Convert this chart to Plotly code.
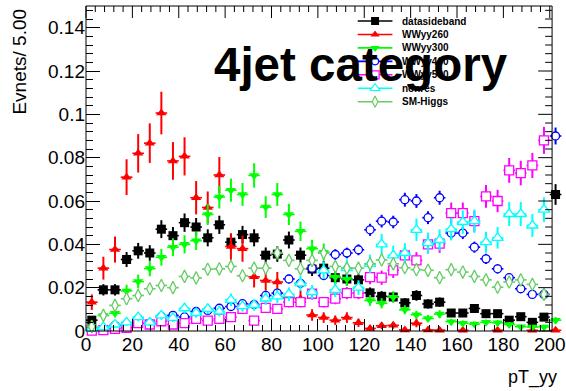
import numpy as np
import plotly.graph_objects as go

# pT_yy bin centres (5 GeV bins); the last entry is the overflow bin just past the frame
pt_centres = [2.5 + 5 * i for i in range(41)]
bin_half_width = 2.5

datasideband = [0.005, 0.019, 0.019, 0.033, 0.037, 0.036, 0.047, 0.044, 0.050, 0.048,
                0.043, 0.049, 0.041, 0.0445, 0.043, 0.035, 0.0355, 0.042, 0.035, 0.0286,
                0.029, 0.0246, 0.024, 0.0236, 0.0176, 0.016, 0.0157, 0.013, 0.0164, 0.0125,
                0.0133, 0.0083, 0.0083, 0.0104, 0.008, 0.008, 0.005, 0.0066, 0.004, 0.0064,
                0.063]
wwyy260 = [0.0133, 0.029, 0.0376, 0.071, 0.082, 0.0867, 0.1006, 0.0785, 0.0806, 0.0615,
           0.057, 0.072, 0.039, 0.038, 0.025, 0.0233, 0.0226, 0.0153, 0.0149, 0.0074,
           0.0062, 0.005, 0.0062, 0.0038, 0.0012, 0.0024, 0.0026, 0.0005, 0.0036, 0.0005,
           0.0004, None, 0.0003, None, None, 0.0003, None, None, 0.0003, None,
           0.0003]
wwyy300 = [0.0018, 0.0072, 0.0082, 0.0185, 0.0228, 0.0288, 0.034, 0.0387, 0.040, 0.0417,
           0.0538, 0.0618, 0.065, 0.063, 0.0718, 0.0572, 0.063, 0.0538, 0.046, 0.038,
           0.0364, 0.0249, 0.024, 0.0195, 0.0141, 0.0128, 0.0156, 0.0098, 0.0075, 0.0058,
           0.0078, 0.0043, 0.0036, 0.0032, 0.004, 0.0038, 0.003, 0.002, 0.0018, 0.0019,
           0.005]
wwyy400 = [0.0005, 0.001, 0.0025, 0.003, 0.0056, 0.0036, 0.0067, 0.0072, 0.0065, 0.009,
           0.0095, 0.0105, 0.0113, 0.0126, 0.0122, 0.0164, 0.0175, 0.024, 0.022, 0.029,
           0.0256, 0.0353, 0.036, 0.0375, 0.0467, 0.0507, 0.0503, 0.0606, 0.060, 0.0523,
           0.0615, 0.0452, 0.0452, 0.0387, 0.0333, 0.0287, 0.0246, 0.0195, 0.0169, 0.0169,
           0.090]
wwyy500 = [0.0002, 0.0004, 0.001, 0.0015, 0.0036, 0.003, 0.0045, 0.003, 0.0036, 0.0056,
           0.0048, 0.0056, 0.0064, 0.0102, 0.0048, 0.0107, 0.0102, 0.0133, 0.0133, 0.0172,
           0.0133, 0.0149, 0.0175, 0.0175, 0.0249, 0.0246, 0.028, 0.0349, 0.0326, 0.040,
           0.0403, 0.0544, 0.0544, 0.0507, 0.0621, 0.060, 0.0741, 0.0729, 0.0764, 0.088,
           None]
nonres = [0.001, 0.0018, 0.003, 0.004, 0.0064, 0.004, 0.0072, 0.0061, 0.0105, 0.0083,
          0.0102, 0.009, 0.0144, 0.0115, 0.012, 0.015, 0.016, 0.017, 0.022, 0.018,
          0.028, 0.019, 0.029, 0.020, 0.031, 0.040, 0.0349, 0.036, 0.0467, 0.0406,
          0.042, 0.047, 0.0503, 0.0507, 0.041, 0.043, 0.054, 0.054, 0.0487, 0.056,
          None]
sm_higgs = [0.002, 0.0072, 0.0118, 0.0149, 0.0164, 0.0195, 0.021, 0.020, 0.0252, 0.0245,
            0.0285, 0.0287, 0.0298, 0.0255, 0.029, 0.029, 0.036, 0.0326, 0.0287, 0.0326,
            0.036, 0.0298, 0.029, 0.029, 0.031, 0.0328, 0.031, 0.0292, 0.0283, 0.028,
            0.0246, 0.0283, 0.0272, 0.0252, 0.0236, 0.0202, 0.0226, 0.0236, 0.0215, 0.0169,
            None]

series_names = ["datasideband", "WWyy260", "WWyy300", "WWyy400", "WWyy500", "nonres", "SM-Higgs"]
series_values = [datasideband, wwyy260, wwyy300, wwyy400, wwyy500, nonres, sm_higgs]
# statistical error scale of each weighted sample (error = scale * sqrt(content))
stat_scale = [0.019, 0.031, 0.021, 0.013, 0.021, 0.024, 0.008]

colors = ["#000000", "#ff0000", "#00ff00", "#0000ff", "#ff00ff", "#00ffff", "#66cc66"]
symbols = ["square", "triangle-up", "triangle-down", "circle",
           "square", "triangle-up", "diamond-tall"]
hollow = [False, False, False, True, True, True, True]
sizes = [9, 9, 9, 8, 9, 10, 9]

x_major_ticks = list(range(0, 201, 20))
x_minor_ticks = list(range(0, 201, 4))
y_major_ticks = [round(0.02 * i, 3) for i in range(8)]
y_minor_ticks = [round(0.004 * i, 3) for i in range(38)]

FONT = "Liberation Sans, Arial, Helvetica, sans-serif"
FRAME_X = [0, 201]          # drawn frame
Y_RANGE = [0, 0.15]
W, H = 566, 391
PLOT_L, PLOT_R, PLOT_T, PLOT_B = 86, 566, 6, 331     # plotting area in pixels
FRAME_R_PX = 556
# axis range extends past the frame so the overflow bin stays visible
x_axis_max = FRAME_X[1] * (PLOT_R - PLOT_L) / (FRAME_R_PX - PLOT_L)


def px_of_x(v):
    return PLOT_L + (v - FRAME_X[0]) * (FRAME_R_PX - PLOT_L) / (FRAME_X[1] - FRAME_X[0])


def py_of_y(v):
    return PLOT_B - (v - Y_RANGE[0]) * (PLOT_B - PLOT_T) / (Y_RANGE[1] - Y_RANGE[0])


def paper_x(px):
    return (px - PLOT_L) / (PLOT_R - PLOT_L)


def paper_y(py):
    return (PLOT_B - py) / (PLOT_B - PLOT_T)


fig = go.Figure()

for name, vals, scale, col, sym, hol, sz in zip(series_names, series_values, stat_scale,
                                                colors, symbols, hollow, sizes):
    y = np.array([np.nan if v is None else v for v in vals], dtype=float)
    err = scale * np.sqrt(np.nan_to_num(y))
    fig.add_trace(go.Scatter(
        x=pt_centres, y=y, mode="markers", name=name, showlegend=False,
        cliponaxis=False,
        marker=dict(symbol=sym, size=sz, color="white" if hol else col,
                    line=dict(color=col, width=1.3 if hol else 0)),
        error_y=dict(type="data", array=err, color=col, thickness=2, width=0),
        error_x=dict(type="constant", value=bin_half_width, color=col, thickness=1.6, width=0),
    ))

# legend block drawn on a pixel-coordinate overlay
leg_x0, leg_x1, leg_xm, leg_text_x = 360, 395, 377.5, 403
leg_rows = [21 + 13.45 * i for i in range(len(series_names))]
for name, col, sym, hol, sz, yrow in zip(series_names, colors, symbols, hollow, sizes, leg_rows):
    fig.add_trace(go.Scatter(
        x=[leg_x0, leg_x1], y=[yrow, yrow], xaxis="x2", yaxis="y2", mode="lines",
        line=dict(color=col, width=1.6), showlegend=False, hoverinfo="skip"))
    fig.add_trace(go.Scatter(
        x=[leg_xm], y=[yrow], xaxis="x2", yaxis="y2", mode="markers",
        marker=dict(symbol=sym, size=sz - 1, color="white" if hol else col,
                    line=dict(color=col, width=1.2 if hol else 0)),
        showlegend=False, hoverinfo="skip"))
    fig.add_annotation(x=leg_text_x, y=yrow, xref="x2", yref="y2", text=name,
                       showarrow=False, xanchor="left", yanchor="middle",
                       font=dict(family=FONT, size=10, color="black", weight="bold"))

fig.add_annotation(x=213, y=64, xref="x2", yref="y2", text="4jet category",
                   showarrow=False, xanchor="left", yanchor="middle",
                   font=dict(family=FONT, size=47.5, color="black", weight="bold"))

fig.add_annotation(x=paper_x(18), y=paper_y(7), xref="paper", yref="paper",
                   text="Evnets/ 5.00", showarrow=False, textangle=-90,
                   xanchor="center", yanchor="top",
                   font=dict(family=FONT, size=19, color="black"))
fig.add_annotation(x=paper_x(563), y=paper_y(377), xref="paper", yref="paper",
                   text="pT_yy", showarrow=False, xanchor="right", yanchor="middle",
                   font=dict(family=FONT, size=18, color="black"))

# frame and mirrored ticks on the top and right edges
line_style = dict(color="black", width=1)
shapes = [dict(type="rect", xref="paper", yref="paper",
               x0=paper_x(px_of_x(FRAME_X[0])), x1=paper_x(px_of_x(FRAME_X[1])),
               y0=paper_y(py_of_y(Y_RANGE[0])), y1=paper_y(py_of_y(Y_RANGE[1])),
               line=line_style, layer="above")]
for xv in x_minor_ticks:
    ln = 12 if xv in x_major_ticks else 6
    xp = paper_x(px_of_x(xv))
    shapes.append(dict(type="line", xref="paper", yref="paper", x0=xp, x1=xp,
                       y0=paper_y(PLOT_T), y1=paper_y(PLOT_T + ln), line=line_style))
for yv in y_minor_ticks:
    ln = 14 if yv in y_major_ticks else 7
    yp = paper_y(py_of_y(yv))
    shapes.append(dict(type="line", xref="paper", yref="paper",
                       x0=paper_x(FRAME_R_PX), x1=paper_x(FRAME_R_PX - ln),
                       y0=yp, y1=yp, line=line_style))

axis_common = dict(showgrid=False, zeroline=False, showline=False, ticks="inside",
                   tickcolor="black", tickwidth=1,
                   tickfont=dict(family=FONT, size=19, color="black"))

fig.update_layout(
    width=W, height=H,
    margin=dict(l=PLOT_L, r=W - PLOT_R, t=PLOT_T, b=H - PLOT_B),
    paper_bgcolor="white", plot_bgcolor="white",
    showlegend=False,
    shapes=shapes,
    xaxis=dict(range=[0, x_axis_max], tickmode="array", tickvals=x_major_ticks,
               ticklen=12, ticklabeloverflow="allow",
               minor=dict(ticks="inside", ticklen=6, tickmode="array",
                          tickvals=x_minor_ticks, tickcolor="black"),
               **axis_common),
    yaxis=dict(range=Y_RANGE, tickmode="array", tickvals=y_major_ticks,
               ticktext=[f"{v:g}" for v in y_major_ticks], ticklen=14,
               minor=dict(ticks="inside", ticklen=7, tickmode="array",
                          tickvals=y_minor_ticks, tickcolor="black"),
               **axis_common),
    xaxis2=dict(overlaying="x", range=[PLOT_L, PLOT_R], visible=False),
    yaxis2=dict(overlaying="y", range=[PLOT_B, PLOT_T], visible=False),
)

fig.write_html("out.html")
